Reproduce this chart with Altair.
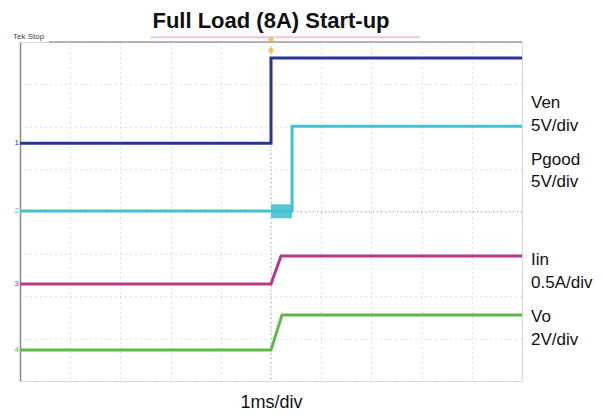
import altair as alt
import pandas as pd

# ---- data (time in divisions 0..10, 1 ms/div; amplitude in divisions 0..8) ----
ven_t = [0, 5.0, 5.0, 10]
ven_v = [5.61, 5.61, 7.62, 7.62]
pg_t = [0, 5.42, 5.42, 10]
pg_v = [4.01, 4.01, 6.01, 6.01]
iin_t = [0, 5.0, 5.2, 10]
iin_v = [2.29, 2.29, 2.95, 2.95]
vo_t = [0, 5.0, 5.22, 10]
vo_v = [0.73, 0.73, 1.56, 1.56]

series_names = ["Ven", "Pgood", "Iin", "Vo"]
series_colors = ["#2a3592", "#43c3cf", "#b53a8e", "#5cba47"]

# Pgood switching noise band right after trigger
band_t = [5.0, 5.42]
band_v = [3.84, 4.17]

label_text = ["Ven", "5V/div", "Pgood", "5V/div", "Iin", "0.5A/div", "Vo", "2V/div"]
label_y = [6.56, 6.01, 5.21, 4.69, 2.85, 2.31, 1.51, 0.97]

grid_x = list(range(0, 11))
grid_y = list(range(0, 9))

rows = []
for name, ts, vs in zip(series_names, [ven_t, pg_t, iin_t, vo_t], [ven_v, pg_v, iin_v, vo_v]):
    for i, (t, v) in enumerate(zip(ts, vs)):
        rows.append({"series": name, "t": t, "v": v, "i": i})
df = pd.DataFrame(rows)

xs = alt.Scale(domain=[0, 10], nice=False, zero=False)
ys = alt.Scale(domain=[0, 8], nice=False, zero=False)

base_x = alt.X("t:Q", scale=xs,
               axis=alt.Axis(values=grid_x, grid=True, ticks=False, labels=False, domain=False,
                             gridColor="#c4c4c4", gridDash=[1, 4], gridWidth=1,
                             title="1ms/div", titleFontSize=18, titleFontWeight="normal",
                             titleFont="Liberation Sans", titleColor="#111111", titlePadding=12))
base_y = alt.Y("v:Q", scale=ys,
               axis=alt.Axis(values=grid_y, grid=True, ticks=False, labels=False,
                             domain=True, domainColor="#8a8a8a", domainWidth=1.5,
                             gridColor="#c4c4c4", gridDash=[1, 4], gridWidth=1, title=None))

lines = alt.Chart(df).mark_line(strokeWidth=3, interpolate="linear").encode(
    x=base_x,
    y=base_y,
    color=alt.Color("series:N", scale=alt.Scale(domain=series_names, range=series_colors), legend=None),
    detail="series:N",
    order="i:Q",
)

band = alt.Chart(pd.DataFrame({"t": [band_t[0]], "t2": [band_t[1]], "v": [band_v[0]], "v2": [band_v[1]]})).mark_rect(
    color="#43c3cf", opacity=0.9
).encode(x=alt.X("t:Q", scale=xs), x2="t2:Q", y=alt.Y("v:Q", scale=ys), y2="v2:Q")

# center crosshair lines (slightly darker dotted)
center = alt.Chart(pd.DataFrame({"t": [5]})).mark_rule(color="#a0a0a0", strokeDash=[1, 3], strokeWidth=1).encode(
    x=alt.X("t:Q", scale=xs))
center_h = alt.Chart(pd.DataFrame({"v": [4]})).mark_rule(color="#a0a0a0", strokeDash=[1, 3], strokeWidth=1).encode(
    y=alt.Y("v:Q", scale=ys))

# top border line of scope screen
top_line = alt.Chart(pd.DataFrame({"t": [0.58], "t2": [10], "v": [8]})).mark_rule(
    color="#a0a0a0", strokeWidth=1.5).encode(x=alt.X("t:Q", scale=xs), x2="t2:Q", y=alt.Y("v:Q", scale=ys))

# record bar (pink) above screen
rec_bar = alt.Chart(pd.DataFrame({"t": [2.6], "t2": [7.97], "v": [8.11]})).mark_rule(
    color="#ecc4de", strokeWidth=2, clip=False).encode(x=alt.X("t:Q", scale=xs), x2="t2:Q", y=alt.Y("v:Q", scale=ys))

# trigger marker
trig = alt.Chart(pd.DataFrame({"t": [5, 5], "v": [8.05, 7.8]})).mark_point(
    shape="circle", filled=True, color="#e8b030", size=30, clip=False).encode(
    x=alt.X("t:Q", scale=xs), y=alt.Y("v:Q", scale=ys))

tek = alt.Chart(pd.DataFrame({"t": [0], "v": [8], "s": ["Tek Stop"]})).mark_text(
    align="left", baseline="bottom", dx=-7, dy=-1, fontSize=8, font="Liberation Sans",
    color="#444444", clip=False).encode(x=alt.X("t:Q", scale=xs), y=alt.Y("v:Q", scale=ys), text="s:N")

# channel markers at left
ch_df = pd.DataFrame({"t": [0, 0, 0, 0], "v": [ven_v[0], pg_v[0], iin_v[0], vo_v[0]],
                      "s": ["1", "2", "3", "4"], "series": series_names})
chm = alt.Chart(ch_df).mark_text(align="right", baseline="middle", dx=-1, fontSize=8,
                                  font="Liberation Sans", clip=False).encode(
    x=alt.X("t:Q", scale=xs), y=alt.Y("v:Q", scale=ys), text="s:N",
    color=alt.Color("series:N", scale=alt.Scale(domain=series_names, range=series_colors), legend=None))

lab_df = pd.DataFrame({"t": [10] * len(label_text), "v": label_y, "s": label_text})
labels = alt.Chart(lab_df).mark_text(align="left", baseline="middle", dx=9, fontSize=17,
                                      font="Liberation Sans", color="#111111", clip=False).encode(
    x=alt.X("t:Q", scale=xs), y=alt.Y("v:Q", scale=ys), text="s:N")

chart = alt.layer(center, center_h, top_line, rec_bar, band, lines, trig, tek, chm, labels).properties(
    width=502, height=339,
    title=alt.TitleParams("Full Load (8A) Start-up", fontSize=22, fontWeight="bold",
                          font="Liberation Sans", color="#111111", anchor="middle",
                          frame="group", offset=0),
    autosize=alt.AutoSizeParams(type="none"),
    padding={"left": 12, "top": 34, "right": 73, "bottom": 29},
).configure_view(stroke=None).configure(background="white")

chart.save("out.html", embed_options={"renderer": "svg", "actions": False})
